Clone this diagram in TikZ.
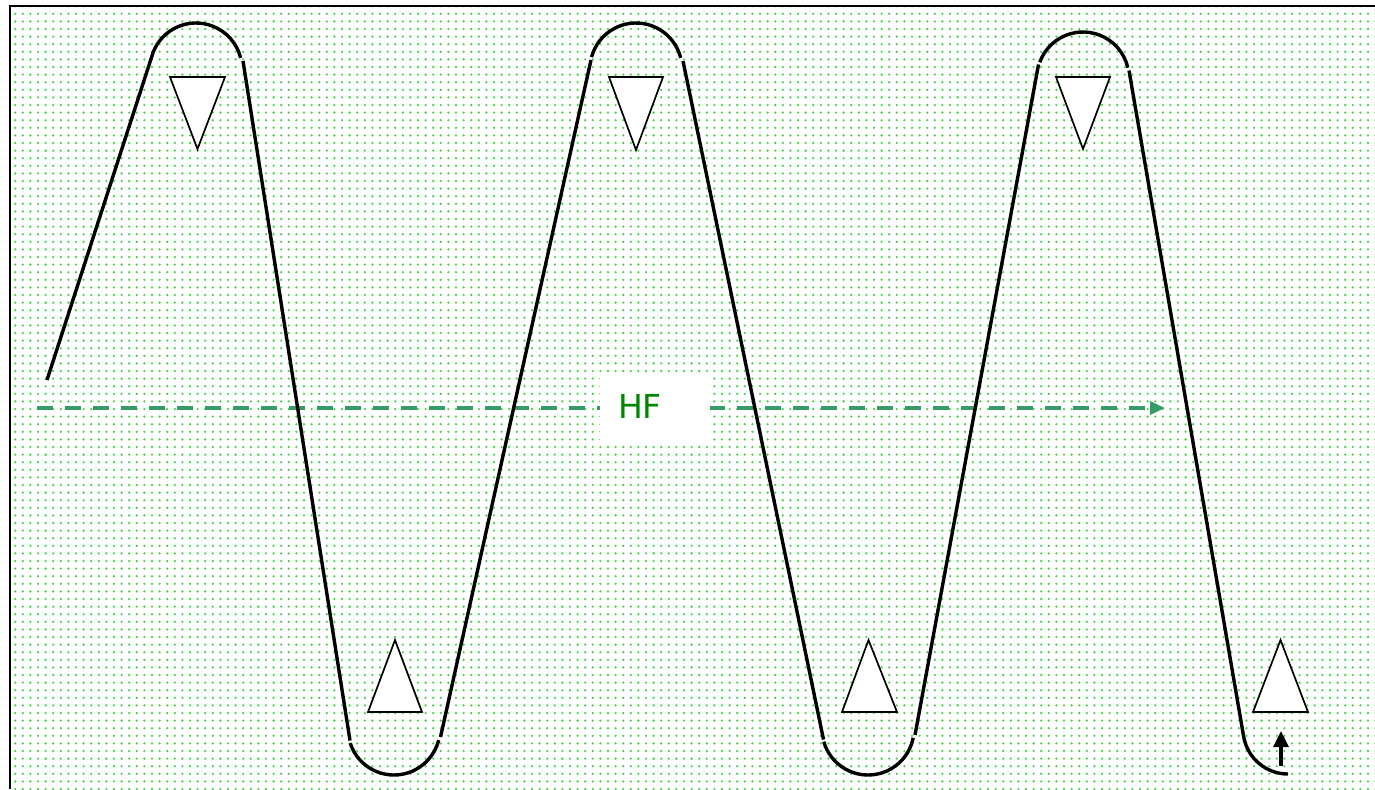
\documentclass[tikz,border=0pt]{standalone}
\usepackage{fontspec}
\setmainfont{DejaVu Sans}
\usetikzlibrary{patterns.meta,arrows.meta}
\definecolor{dotgreen}{RGB}{80,210,80}
\definecolor{flowgreen}{RGB}{55,155,105}
\definecolor{hfgreen}{RGB}{0,135,0}
\tikzset{
  belt/.style={line width=1.7pt,black},
  tri/.style={line width=0.85pt,black,fill=white,line join=miter},
  flow/.style={line width=1.6pt,flowgreen,dash pattern=on 8pt off 6pt,-{Triangle[length=7.5pt,width=6.5pt]}},
  push/.style={line width=1.6pt,black,-{Triangle[length=8pt,width=7.5pt]}},
}
\begin{document}
\begin{tikzpicture}[x=0.5pt,y=-0.5pt]
\useasboundingbox (0,0) rectangle (1375,789);
% background
\fill[white] (0,0) rectangle (1375,789);
\fill[pattern={Dots[distance=3.8pt,radius=0.65pt]},pattern color=dotgreen] (11,7) rectangle (1375,789);
\draw[line width=1pt] (10,789) -- (10,6) -- (1375,6);
% flow line and label
\coordinate (fs) at (37,408);
\coordinate (fe) at (1165,408);
\draw[flow] (fs) -- (fe);
\fill[white] (600,375) rectangle (710,443);
\node[text=hfgreen,font=\fontsize{16.5}{20}\selectfont,inner sep=0pt] (hf) at (640,406) {HF};
% belt
\coordinate (s0) at (47,380);
\draw[belt] (s0) -- (153.1,52.5);
\draw[belt] ([shift={(201:46)}]196,69) arc[start angle=201,end angle=346,radius=46];
\draw[belt] (243,61) -- (350,740.5);
\draw[belt] ([shift={(162:46)}]394,729) arc[start angle=162,end angle=14,radius=46];
\draw[belt] (440.5,737) -- (591,60);
\draw[belt] ([shift={(195:46)}]636,69) arc[start angle=195,end angle=346,radius=46];
\draw[belt] (683,61) -- (823.5,739.5);
\draw[belt] ([shift={(164:46)}]868,729) arc[start angle=164,end angle=11,radius=46];
\draw[belt] (915,735) -- (1038.5,64.5);
\draw[belt] ([shift={(200:46)}]1083,78) arc[start angle=200,end angle=347,radius=46];
\draw[belt] (1129,70.5) -- ([shift={(170:45)}]1288,729) arc[start angle=170,end angle=90,radius=45];
% rollers (triangles)
\draw[tri] (170,77) -- (225,77) -- (197.5,149) -- cycle;
\draw[tri] (609,77) -- (663,77) -- (636,150) -- cycle;
\draw[tri] (1056,77) -- (1110,77) -- (1083,149) -- cycle;
\draw[tri] (368,712) -- (422,712) -- (395,640) -- cycle;
\draw[tri] (842,712) -- (897,712) -- (868.5,640) -- cycle;
\draw[tri] (1253,712) -- (1308,712) -- (1280.5,640) -- cycle;
% small arrow
\coordinate (pa) at (1281,766);
\coordinate (pb) at (1281,731);
\draw[push] (pa) -- (pb);
\end{tikzpicture}
\end{document}
